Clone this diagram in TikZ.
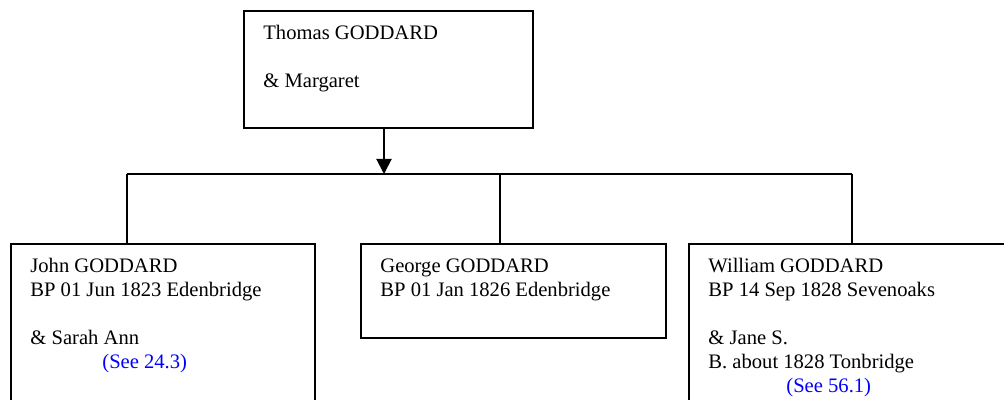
\documentclass[tikz,border=0pt]{standalone}
\usepackage{fontspec}
\setmainfont{Liberation Serif}
\usetikzlibrary{arrows.meta,positioning}
\begin{document}
\begin{tikzpicture}[
  x=0.5pt, y=-0.5pt,
  famlbox/.style={draw, line width=1pt, anchor=north west, inner sep=0pt},
  famltxt/.style={align=left, inner sep=0pt, font=\fontsize{10.3}{12}\selectfont},
  linkline/.style={line width=1pt},
  linkarr/.style={line width=1pt, -{Triangle[width=7.5pt,length=7.5pt]}},
]

%% ── Colours ──────────────────────────────────────────────────────────────────
\definecolor{seeBlue}{RGB}{0,0,255}

%% ── Page frame ───────────────────────────────────────────────────────────────
\useasboundingbox (0,0) rectangle (1004,400);
\clip (0,0) rectangle (1004,400);

%% ── Boxes ────────────────────────────────────────────────────────────────────
\node[famlbox, minimum width=144.5pt, minimum height=58.5pt] (thomas)  at (243,10)  {};
\node[famlbox, minimum width=152pt,   minimum height=90pt]   (john)    at (10,243)  {};
\node[famlbox, minimum width=152.5pt, minimum height=47pt]   (george)  at (360,243) {};
\node[famlbox, minimum width=170pt,   minimum height=90pt]   (william) at (688,243) {};

%% ── Box texts ────────────────────────────────────────────────────────────────
\node[famltxt, below right=7.5pt and 10pt of thomas.north west] (thomastxt)
  {Thomas GODDARD\\[12pt]\& Margaret};
\node[famltxt, below right=7.5pt and 10pt of john.north west] (johntxt)
  {John GODDARD\\BP 01 Jun 1823 Edenbridge\\[12pt]\& Sarah Ann\\
   \hspace*{36pt}\textcolor{seeBlue}{(See 24.3)}};
\node[famltxt, below right=7.5pt and 10pt of george.north west] (georgetxt)
  {George GODDARD\\BP 01 Jan 1826 Edenbridge};
\node[famltxt, below right=7.5pt and 10pt of william.north west] (williamtxt)
  {William GODDARD\\BP 14 Sep 1828 Sevenoaks\\[12pt]\& Jane S.\\
   B. about 1828 Tonbridge\\\hspace*{39pt}\textcolor{seeBlue}{(See 56.1)}};

%% ── Connectors ───────────────────────────────────────────────────────────────
\coordinate (bus)  at (384,174);
\coordinate (busL) at (127,174);
\coordinate (busM) at (500,174);
\coordinate (busR) at (852,174);

\draw[linkarr]  (thomas.south -| bus) -- (bus);
\draw[linkline] (busL) -- (busR);
\draw[linkline] (busL) -- (busL |- john.north);
\draw[linkline] (busM) -- (busM |- george.north);
\draw[linkline] (busR) -- (busR |- william.north);

\end{tikzpicture}
\end{document}
